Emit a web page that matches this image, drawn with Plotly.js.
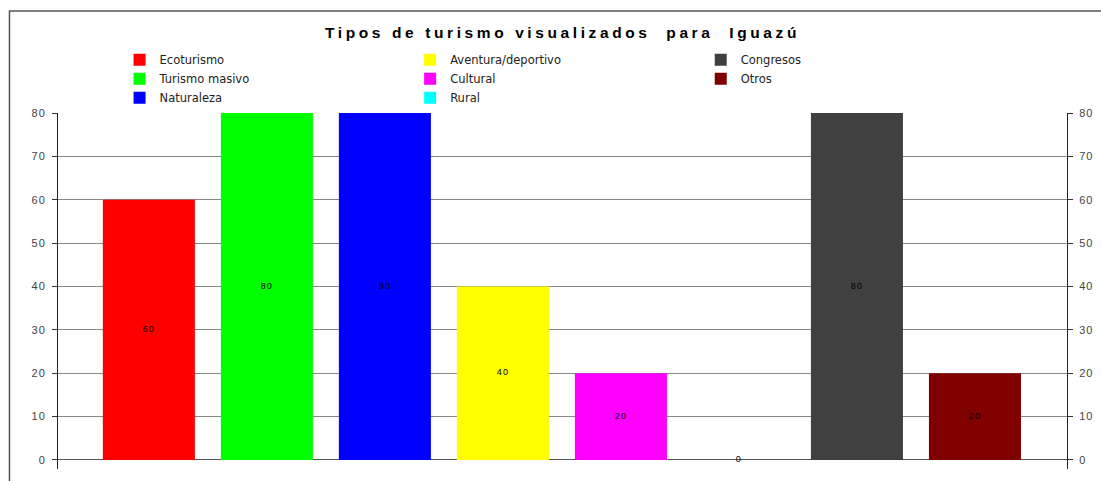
<!DOCTYPE html>
<html>
<head>
<meta charset="utf-8">
<script src="https://cdn.plot.ly/plotly-3.0.1.min.js"></script>
<style>
html,body{margin:0;padding:0;background:#fff;}
#chart{width:1101px;height:481px;}
#chart .gtitle{letter-spacing:3.6px;}
#chart .ytick text, #chart .y2tick text{letter-spacing:1px;}
#chart .textpoint text{letter-spacing:1.2px;}
</style>
</head>
<body>
<div id="chart"></div>
<script>
const categories = ["Ecoturismo", "Turismo masivo", "Naturaleza", "Aventura/deportivo", "Cultural", "Rural", "Congresos", "Otros"];
const values = [60, 80, 80, 40, 20, 0, 80, 20];
const colors = ["#FF0000", "#00FF00", "#0000FF", "#FFFF00", "#FF00FF", "#00FFFF", "#404040", "#800000"];
const legendColumn = ["legend", "legend", "legend", "legend2", "legend2", "legend2", "legend3", "legend3"];
const yTicks = [0, 10, 20, 30, 40, 50, 60, 70, 80];
const titleText = "Tipos de turismo visualizados\u00a0 para\u00a0 Iguazú";

const traces = categories.map((c, i) => ({
  type: "bar",
  name: c,
  x: [c],
  y: [values[i]],
  width: 0.78,
  marker: {color: colors[i], line: {width: 0}},
  legend: legendColumn[i],
  hoverinfo: "none"
}));

traces.push({
  type: "scatter",
  mode: "text",
  x: categories,
  y: values.map(v => v / 2),
  text: values.map(String),
  textfont: {family: "Liberation Sans, Arial, sans-serif", size: 9, color: "#000"},
  textposition: "middle center",
  showlegend: false,
  yaxis: "y2",
  hoverinfo: "none"
});

const legFont = {family: "DejaVu Sans, sans-serif", size: 11.5, color: "#222"};
const legBase = {orientation: "v", xanchor: "left", yanchor: "top", y: 1.19, font: legFont, bgcolor: "rgba(0,0,0,0)", borderwidth: 0, traceorder: "normal"};

const tickFont = {family: "Liberation Sans, Arial, sans-serif", size: 11, color: "#444"};

const layout = {
  width: 1101,
  height: 481,
  margin: {l: 58, r: 34, t: 113, b: 12},
  paper_bgcolor: "#fff",
  plot_bgcolor: "#fff",
  barmode: "overlay",
  title: {
    text: titleText,
    font: {family: "Liberation Sans, Arial, sans-serif", size: 15.5, color: "#000", weight: "bold"},
    x: 0.5, xref: "paper", xanchor: "center",
    y: 1 - 33 / 481, yref: "container", yanchor: "middle"
  },
  xaxis: {
    type: "category",
    categoryarray: categories,
    range: [-0.77, 7.78],
    showticklabels: false,
    showgrid: false,
    zeroline: false,
    showline: false,
    ticks: ""
  },
  yaxis: {
    range: [-2.08, 80],
    tickvals: yTicks,
    ticks: "outside",
    ticklen: 5,
    tickcolor: "#333",
    tickfont: tickFont,
    ticklabelstandoff: 4,
    showline: true,
    linecolor: "#222",
    linewidth: 1,
    showgrid: true,
    gridcolor: "#888",
    gridwidth: 1,
    zeroline: true,
    zerolinecolor: "#555",
    zerolinewidth: 1,
    fixedrange: true
  },
  yaxis2: {
    overlaying: "y",
    side: "right",
    matches: "y",
    range: [-2.08, 80],
    tickvals: yTicks,
    ticks: "outside",
    ticklen: 5,
    tickcolor: "#333",
    tickfont: tickFont,
    ticklabelstandoff: 4,
    showline: true,
    linecolor: "#222",
    linewidth: 1,
    showgrid: false,
    zeroline: false
  },
  legend: Object.assign({}, legBase, {x: 0.061}),
  legend2: Object.assign({}, legBase, {x: 0.349}),
  legend3: Object.assign({}, legBase, {x: 0.637}),
  shapes: [{
    type: "rect", xref: "paper", yref: "paper",
    x0: -0.0481, x1: 1.2, y0: -0.3, y1: 1.2865,
    line: {color: "#555", width: 1.5},
    fillcolor: "rgba(0,0,0,0)",
    layer: "below"
  }],
  showlegend: true
};

Plotly.newPlot("chart", traces, layout, {displayModeBar: false, staticPlot: true});
</script>
</body>
</html>
